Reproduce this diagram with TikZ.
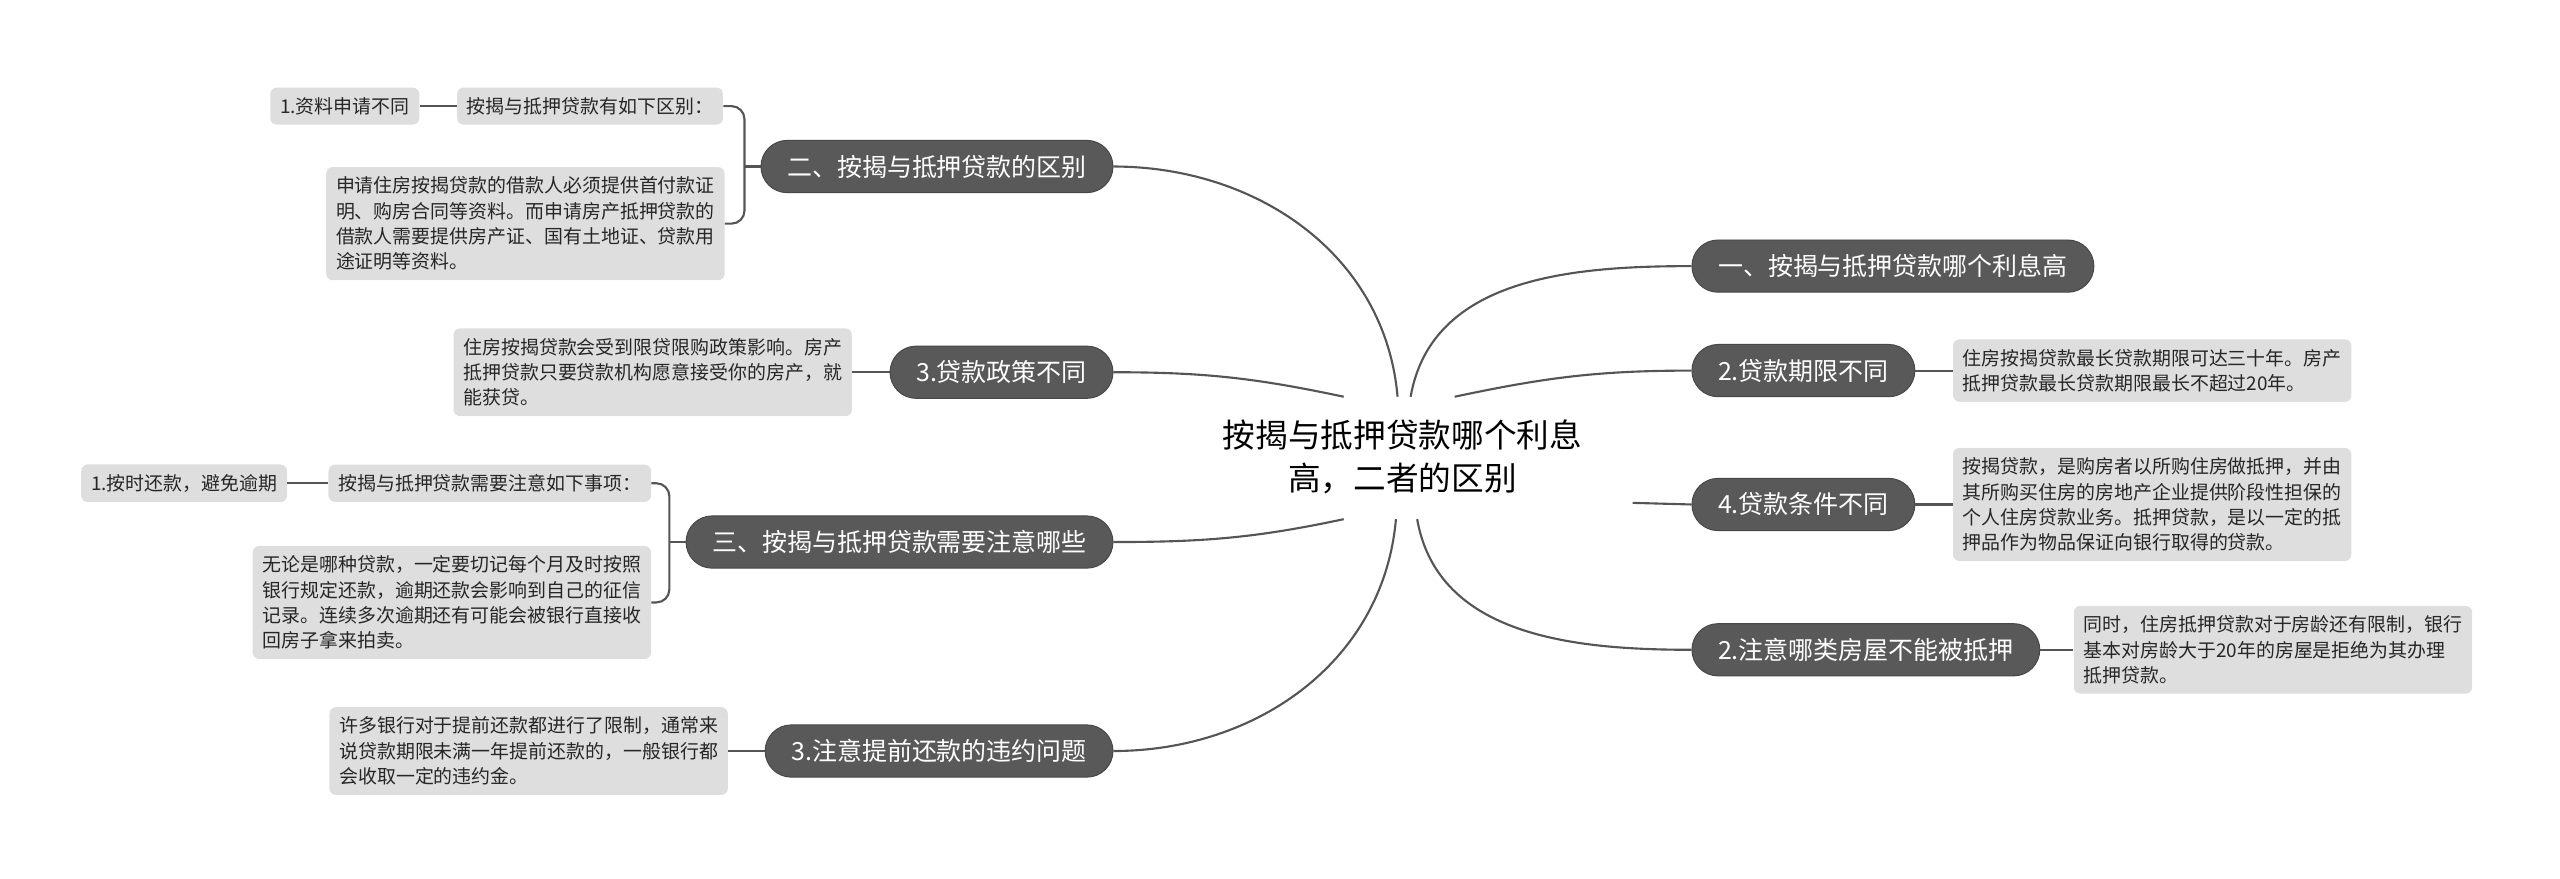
\documentclass[tikz,border=0pt]{standalone}
\usepackage{fontspec}
\setmainfont{Noto Sans CJK SC}
\definecolor{pillgray}{RGB}{89,89,89}
\definecolor{leafgray}{RGB}{222,222,222}
\definecolor{linegray}{RGB}{85,85,85}
\begin{document}
\begin{tikzpicture}[x=1pt, y=1pt,
		topic/.style={fill=pillgray, draw=pillgray!80!black, line width=0.6pt, rounded corners=16pt, minimum height=32pt, inner xsep=16pt, text=white, font=\fontsize{15.3}{18}\selectfont},
		leaf/.style={fill=leafgray, rounded corners=4pt, inner sep=6pt, align=left, text=black!85, font=\fontsize{11.6}{15.5}\selectfont},
		link/.style={draw=linegray, line width=1.3pt}]
		\useasboundingbox (0,0) rectangle (1568,538);
		
		%centre
		\node (root) at (859,258) [align=center, font=\fontsize{20}{26.3}\selectfont]{按揭与抵押贷款哪个利息\\高，二者的区别};
		\coordinate (s1) at (864,295);
		\coordinate (s2) at (891,295);
		\coordinate (s3) at (1000,230);
		\coordinate (s4) at (868,220);
		\coordinate (s5) at (856,295);
		\coordinate (s6) at (823,295);
		\coordinate (s7) at (823,220);
		\coordinate (s8) at (855,220);
		
		%right side
		\node (t1) at (1036,375) [topic, anchor=west]{一、按揭与抵押贷款哪个利息高};
		\node (t2) at (1036,311) [topic, anchor=west]{2.贷款期限不同};
		\node (t3) at (1036,229) [topic, anchor=west]{4.贷款条件不同};
		\node (t4) at (1036,140) [topic, anchor=west]{2.注意哪类房屋不能被抵押};
		\node (l2) at (1196,311) [leaf, anchor=west]{住房按揭贷款最长贷款期限可达三十年。房产\\抵押贷款最长贷款期限最长不超过20年。};
		\node (l3) at (1196,229) [leaf, anchor=west]{按揭贷款，是购房者以所购住房做抵押，并由\\其所购买住房的房地产企业提供阶段性担保的\\个人住房贷款业务。抵押贷款，是以一定的抵\\押品作为物品保证向银行取得的贷款。};
		\node (l4) at (1270,140) [leaf, anchor=west]{同时，住房抵押贷款对于房龄还有限制，银行\\基本对房龄大于20年的房屋是拒绝为其办理\\抵押贷款。};
		
		%left side
		\node (t5) at (682,436) [topic, anchor=east]{二、按揭与抵押贷款的区别};
		\node (t6) at (682,310) [topic, anchor=east]{3.贷款政策不同};
		\node (t7) at (682,206) [topic, anchor=east]{三、按揭与抵押贷款需要注意哪些};
		\node (t8) at (682,78) [topic, anchor=east]{3.注意提前还款的违约问题};
		\node (c5a) at (443,473) [leaf, anchor=east]{按揭与抵押贷款有如下区别：};
		\node (c5b) at (444,401) [leaf, anchor=east]{申请住房按揭贷款的借款人必须提供首付款证\\明、购房合同等资料。而申请房产抵押贷款的\\借款人需要提供房产证、国有土地证、贷款用\\途证明等资料。};
		\node (g5) at (257,473) [leaf, anchor=east]{1.资料申请不同};
		\node (l6) at (522,310) [leaf, anchor=east]{住房按揭贷款会受到限贷限购政策影响。房产\\抵押贷款只要贷款机构愿意接受你的房产，就\\能获贷。};
		\node (c7a) at (399,242) [leaf, anchor=east]{按揭与抵押贷款需要注意如下事项：};
		\node (c7b) at (399,169) [leaf, anchor=east]{无论是哪种贷款，一定要切记每个月及时按照\\银行规定还款，逾期还款会影响到自己的征信\\记录。连续多次逾期还有可能会被银行直接收\\回房子拿来拍卖。};
		\node (g7) at (176,242) [leaf, anchor=east]{1.按时还款，避免逾期};
		\node (l8) at (446,78) [leaf, anchor=east]{许多银行对于提前还款都进行了限制，通常来\\说贷款期限未满一年提前还款的，一般银行都\\会收取一定的违约金。};
		
		%branches
		\draw[link] (s1) to[out=80, in=180] (t1.west);
		\draw[link] (s2) to[out=12, in=180] (t2.west);
		\draw[link] (s3) -- (t3.west);
		\draw[link] (s4) to[out=-80, in=180] (t4.west);
		\draw[link] (s5) to[out=95, in=0] (t5.east);
		\draw[link] (s6) to[out=168, in=0] (t6.east);
		\draw[link] (s7) to[out=192, in=0] (t7.east);
		\draw[link] (s8) to[out=-95, in=0] (t8.east);
		
		\foreach \a/\b in {t2/l2, t3/l3, t4/l4}{
			\draw[link] (\a.east) -- (\b.west);
		}
		\foreach \a/\b in {t6/l6, t8/l8, c5a/g5, c7a/g7}{
			\draw[link] (\a.west) -- (\b.east);
		}
		
		%brackets
		\coordinate (k5) at (456,436);
		\coordinate (k7) at (410,206);
		\draw[link] (t5.west) -- (k5);
		\draw[link] (t7.west) -- (k7);
		\draw[link, rounded corners=8pt] (c5a.east) -| (k5) |- (c5b.east);
		\draw[link, rounded corners=8pt] (c7a.east) -| (k7) |- (c7b.east);
		\end{tikzpicture}
\end{document}
